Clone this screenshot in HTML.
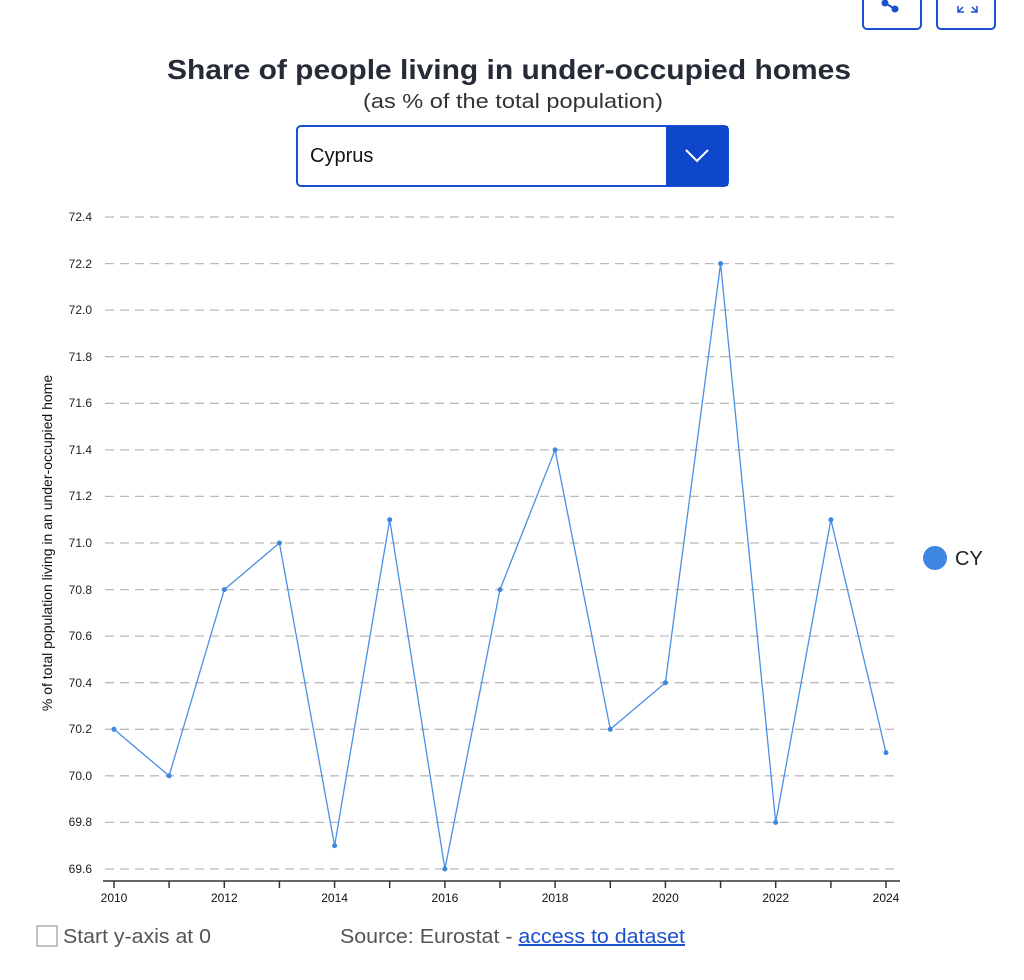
<!DOCTYPE html>
<html><head><meta charset="utf-8"><style>
body{margin:0;width:1024px;height:980px;background:#fff;font-family:"Liberation Sans",sans-serif;position:relative;overflow:hidden}
.btn{position:absolute;top:-10px;width:60px;height:40px;border:2px solid #1a4fd1;border-radius:5px;box-sizing:border-box}
</style></head><body>
<div class="btn" style="left:862px"></div>
<div class="btn" style="left:936px"></div>
<svg width="1024" height="980" style="position:absolute;left:0;top:0" font-family="Liberation Sans, sans-serif">
<circle cx="885" cy="3" r="3.5" fill="#1a4fd1"/><circle cx="895" cy="9" r="3.5" fill="#1a4fd1"/><line x1="885" y1="3" x2="895" y2="9" stroke="#1a4fd1" stroke-width="2"/>
<path d="M958 6 l0 6 l6 0 M958 12 l5 -5 M977 6 l0 6 l-6 0 M977 12 l-5 -5" stroke="#1a4fd1" stroke-width="1.5" fill="none"/>
<text x="509" y="79" text-anchor="middle" font-size="28" font-weight="bold" fill="#262b38" textLength="684" lengthAdjust="spacingAndGlyphs">Share of people living in under-occupied homes</text>
<text x="513" y="108" text-anchor="middle" font-size="20" fill="#333" textLength="300" lengthAdjust="spacingAndGlyphs">(as % of the total population)</text>
<rect x="297" y="126" width="431" height="60" rx="4" fill="#fff" stroke="#1a4fd1" stroke-width="2"/>
<rect x="666" y="126" width="62" height="60" fill="#0e47cb"/>
<path d="M686 150 l11 11 l11 -11" stroke="#fff" stroke-width="2" fill="none"/>
<text x="310" y="162" font-size="20" fill="#111">Cyprus</text>
<g stroke="#bbb" stroke-dasharray="9,6" stroke-width="1.3">
<line x1="105" x2="900" y1="217" y2="217"/><line x1="105" x2="900" y1="263.6" y2="263.6"/><line x1="105" x2="900" y1="310.1" y2="310.1"/><line x1="105" x2="900" y1="356.7" y2="356.7"/><line x1="105" x2="900" y1="403.3" y2="403.3"/><line x1="105" x2="900" y1="449.9" y2="449.9"/><line x1="105" x2="900" y1="496.4" y2="496.4"/><line x1="105" x2="900" y1="543" y2="543"/><line x1="105" x2="900" y1="589.6" y2="589.6"/><line x1="105" x2="900" y1="636.1" y2="636.1"/><line x1="105" x2="900" y1="682.7" y2="682.7"/><line x1="105" x2="900" y1="729.3" y2="729.3"/><line x1="105" x2="900" y1="775.8" y2="775.8"/><line x1="105" x2="900" y1="822.4" y2="822.4"/><line x1="105" x2="900" y1="869" y2="869"/>
</g>
<g font-size="12" fill="#222" text-anchor="end">
<text x="92" y="221">72.4</text><text x="92" y="268">72.2</text><text x="92" y="314">72.0</text><text x="92" y="361">71.8</text><text x="92" y="407">71.6</text><text x="92" y="454">71.4</text><text x="92" y="500">71.2</text><text x="92" y="547">71.0</text><text x="92" y="594">70.8</text><text x="92" y="640">70.6</text><text x="92" y="687">70.4</text><text x="92" y="733">70.2</text><text x="92" y="780">70.0</text><text x="92" y="826">69.8</text><text x="92" y="873">69.6</text>
</g>
<text transform="translate(52,543) rotate(-90)" text-anchor="middle" font-size="14" fill="#111">% of total population living in an under-occupied home</text>
<line x1="103" x2="900" y1="881" y2="881" stroke="#333" stroke-width="1.5"/>
<g stroke="#333" stroke-width="1.5">
<line x1="114" x2="114" y1="881" y2="888"/><line x1="169.1" x2="169.1" y1="881" y2="888"/><line x1="224.3" x2="224.3" y1="881" y2="888"/><line x1="279.4" x2="279.4" y1="881" y2="888"/><line x1="334.6" x2="334.6" y1="881" y2="888"/><line x1="389.7" x2="389.7" y1="881" y2="888"/><line x1="444.9" x2="444.9" y1="881" y2="888"/><line x1="500" x2="500" y1="881" y2="888"/><line x1="555.1" x2="555.1" y1="881" y2="888"/><line x1="610.3" x2="610.3" y1="881" y2="888"/><line x1="665.4" x2="665.4" y1="881" y2="888"/><line x1="720.6" x2="720.6" y1="881" y2="888"/><line x1="775.7" x2="775.7" y1="881" y2="888"/><line x1="830.9" x2="830.9" y1="881" y2="888"/><line x1="886" x2="886" y1="881" y2="888"/>
</g>
<g font-size="12" fill="#111" text-anchor="middle">
<text x="114" y="902">2010</text><text x="224.3" y="902">2012</text><text x="334.6" y="902">2014</text><text x="444.9" y="902">2016</text><text x="555.1" y="902">2018</text><text x="665.4" y="902">2020</text><text x="775.7" y="902">2022</text><text x="886" y="902">2024</text>
</g>
<polyline fill="none" stroke="#4a90e2" stroke-width="1.3" points="114,729.3 169.1,775.8 224.3,589.6 279.4,543 334.6,845.7 389.7,519.7 444.9,869 500,589.6 555.1,449.9 610.3,729.3 665.4,682.7 720.6,263.6 775.7,822.4 830.9,519.7 886,752.6"/>
<g fill="#3d87e0">
<circle cx="114" cy="729.3" r="2.5"/><circle cx="169.1" cy="775.8" r="2.5"/><circle cx="224.3" cy="589.6" r="2.5"/><circle cx="279.4" cy="543" r="2.5"/><circle cx="334.6" cy="845.7" r="2.5"/><circle cx="389.7" cy="519.7" r="2.5"/><circle cx="444.9" cy="869" r="2.5"/><circle cx="500" cy="589.6" r="2.5"/><circle cx="555.1" cy="449.9" r="2.5"/><circle cx="610.3" cy="729.3" r="2.5"/><circle cx="665.4" cy="682.7" r="2.5"/><circle cx="720.6" cy="263.6" r="2.5"/><circle cx="775.7" cy="822.4" r="2.5"/><circle cx="830.9" cy="519.7" r="2.5"/><circle cx="886" cy="752.6" r="2.5"/>
<circle cx="935" cy="558" r="12"/>
</g>
<text x="955" y="565" font-size="20" fill="#222">CY</text>
<rect x="37" y="926" width="20" height="20" fill="#fff" stroke="#888" stroke-width="1"/>
<text x="63" y="943" font-size="20" fill="#555" textLength="148" lengthAdjust="spacingAndGlyphs">Start y-axis at 0</text>
<text x="340" y="943" font-size="20" fill="#555" textLength="345" lengthAdjust="spacingAndGlyphs">Source: Eurostat - <tspan fill="#1a4fd1" text-decoration="underline">access to dataset</tspan></text>
</svg>
</body></html>
